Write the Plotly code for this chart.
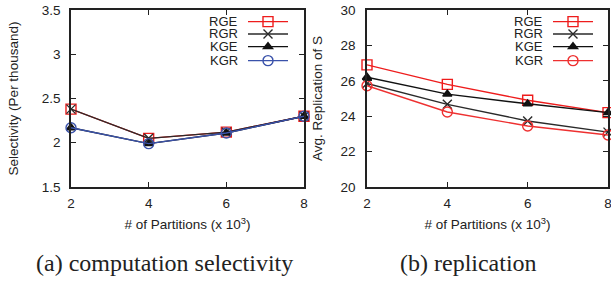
import plotly.graph_objects as go

# ---------------- data ----------------
partitions = [2, 4, 6, 8]
series_names = ["RGE", "RGR", "KGE", "KGR"]

sel_RGE = [2.38, 2.05, 2.12, 2.30]
sel_RGR = [2.38, 2.05, 2.12, 2.30]
sel_KGE = [2.17, 1.99, 2.11, 2.30]
sel_KGR = [2.17, 1.99, 2.11, 2.30]

rep_RGE = [26.9, 25.8, 24.9, 24.2]
rep_RGR = [25.85, 24.67, 23.73, 23.1]
rep_KGE = [26.2, 25.25, 24.7, 24.2]
rep_KGR = [25.72, 24.24, 23.45, 22.94]

x_ticks = [2, 4, 6, 8]
sel_ticks = [1.5, 2, 2.5, 3, 3.5]
sel_ticklabels = ["1.5", "2", "2.5", "3", "3.5"]
rep_ticks = [20, 22, 24, 26, 28, 30]
rep_ticklabels = ["20", "22", "24", "26", "28", "30"]

sel_title = "Selectivity (Per thousand)"
rep_title = "Avg. Replication of S"
x_title = "# of Partitions (x 10<sup>3</sup>)"
captions = ["(a) computation selectivity", "(b) replication"]

# ---------------- styles ----------------
W, H = 611, 283
def px(x):
    return x / W
def py(y):
    return 1 - y / H

sel_styles = {
    "RGE": dict(color="#ee1c1c", symbol="square-open", size=10),
    "RGR": dict(color="#2a2a2a", symbol="x-thin-open", size=9),
    "KGE": dict(color="#111111", symbol="triangle-up", size=8),
    "KGR": dict(color="#3a52aa", symbol="circle-open", size=10),
}
rep_styles = {
    "RGE": dict(color="#ee1c1c", symbol="square-open", size=10),
    "RGR": dict(color="#2a2a2a", symbol="x-thin-open", size=9),
    "KGE": dict(color="#111111", symbol="triangle-up", size=8),
    "KGR": dict(color="#ee3030", symbol="circle-open", size=10),
}

sel_data = {"RGE": sel_RGE, "RGR": sel_RGR, "KGE": sel_KGE, "KGR": sel_KGR}
rep_data = {"RGE": rep_RGE, "RGR": rep_RGR, "KGE": rep_KGE, "KGR": rep_KGR}

legend_rows = [21.7, 34.0, 46.7, 60.7]
legend_left = [248, 553]
legend_text_right = [239, 544]

fig = go.Figure()
font_family = "Liberation Sans, Arial, sans-serif"

legend_layouts = {}
li = 0
for panel, (data, styles, xa, ya) in enumerate([
    (sel_data, sel_styles, "x", "y"),
    (rep_data, rep_styles, "x2", "y2"),
]):
    for row, name in enumerate(series_names):
        st = styles[name]
        li += 1
        lname = "legend" if li == 1 else f"legend{li}"
        fig.add_trace(go.Scatter(
            x=partitions, y=data[name], xaxis=xa, yaxis=ya,
            mode="lines+markers", name="",
            line=dict(color=st["color"], width=1.4),
            marker=dict(symbol=st["symbol"], size=st["size"], color=st["color"],
                        line=dict(color=st["color"], width=1.4)),
            cliponaxis=False, legend=lname, showlegend=True,
            hovertemplate=name + ": %{y}<extra></extra>",
        ))
        legend_layouts[lname] = dict(
            x=px(legend_left[panel] - 5), xanchor="left",
            y=py(legend_rows[row]), yanchor="middle",
            bgcolor="rgba(0,0,0,0)", borderwidth=0,
            font=dict(family=font_family, size=13, color="#222"),
            itemwidth=40, tracegroupgap=0,
        )
        fig.add_annotation(
            text=name, x=px(legend_text_right[panel]), y=py(legend_rows[row]),
            xref="paper", yref="paper", xanchor="right", yanchor="middle",
            showarrow=False, borderpad=0,
            font=dict(family=font_family, size=13, color="#222"),
        )

axis_common = dict(
    showgrid=False, zeroline=False, showline=True, linecolor="#222", linewidth=1.5,
    mirror="allticks", ticks="inside", ticklen=5, tickcolor="#222", tickwidth=1,
    tickfont=dict(family=font_family, size=13.5, color="#222"),
    ticklabeloverflow="allow",
)
title_font = dict(family=font_family, size=13.5, color="#222")

fig.update_layout(
    width=W, height=H, margin=dict(l=0, r=0, t=0, b=0, autoexpand=False),
    paper_bgcolor="white", plot_bgcolor="white", showlegend=True,
    xaxis=dict(domain=[px(71), px(304)], range=[2, 8], tickvals=x_ticks,
               ticklabelstandoff=3,
               title=dict(text=x_title, font=title_font, standoff=10), anchor="y",
               **axis_common),
    yaxis=dict(domain=[py(187), py(10)], range=[1.5, 3.5], tickvals=sel_ticks,
               ticktext=sel_ticklabels, ticklabelstandoff=6,
               title=dict(text=sel_title, font=title_font, standoff=20),
               anchor="x", **axis_common),
    xaxis2=dict(domain=[px(367), px(608)], range=[2, 8], tickvals=x_ticks,
                ticklabelstandoff=3,
                title=dict(text=x_title, font=title_font, standoff=10), anchor="y2",
                **axis_common),
    yaxis2=dict(domain=[py(187), py(10)], range=[20, 30], tickvals=rep_ticks,
                ticktext=rep_ticklabels, ticklabelstandoff=7,
                title=dict(text=rep_title, font=title_font, standoff=15),
                anchor="x2", **axis_common),
    **legend_layouts,
)

for cap, cx in zip(captions, [164, 468]):
    fig.add_annotation(
        text=cap, x=px(cx), y=py(263), xref="paper", yref="paper",
        xanchor="center", yanchor="middle", showarrow=False,
        font=dict(family="Liberation Serif, Times New Roman, serif", size=24, color="#222"),
    )

fig.write_html("out.html", config={"displayModeBar": False},
               post_script="document.body.style.margin='0';")
